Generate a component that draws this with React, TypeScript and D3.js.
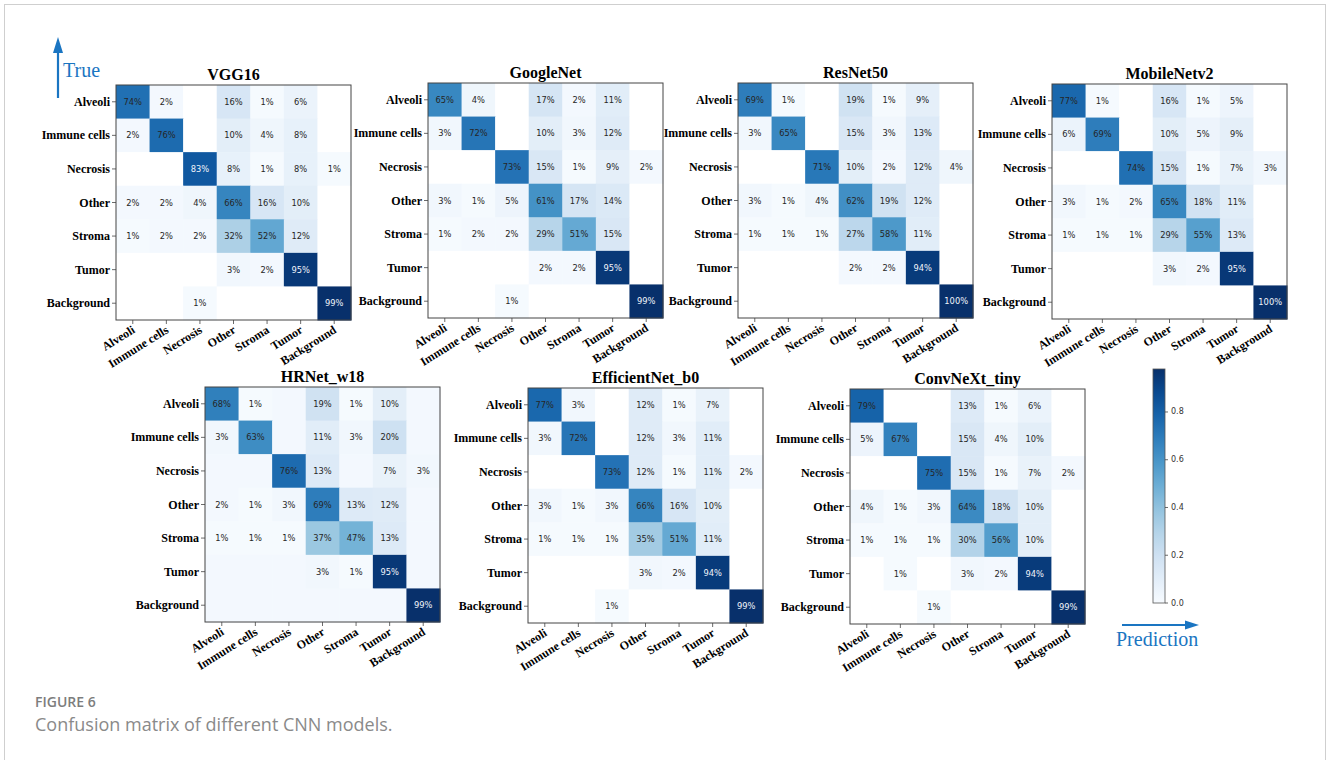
import React from "react";
import * as d3 from "d3";

const classes = ["Alveoli", "Immune cells", "Necrosis", "Other", "Stroma", "Tumor", "Background"];

const vgg16 = [
  [74, 2, 0, 16, 1, 6, 0],
  [2, 76, 0, 10, 4, 8, 0],
  [0, 0, 83, 8, 1, 8, 1],
  [2, 2, 4, 66, 16, 10, 0],
  [1, 2, 2, 32, 52, 12, 0],
  [0, 0, 0, 3, 2, 95, 0],
  [0, 0, 1, 0, 0, 0, 99],
];
const googlenet = [
  [65, 4, 0, 17, 2, 11, 0],
  [3, 72, 0, 10, 3, 12, 0],
  [0, 0, 73, 15, 1, 9, 2],
  [3, 1, 5, 61, 17, 14, 0],
  [1, 2, 2, 29, 51, 15, 0],
  [0, 0, 0, 2, 2, 95, 0],
  [0, 0, 1, 0, 0, 0, 99],
];
const resnet50 = [
  [69, 1, 0, 19, 1, 9, 0],
  [3, 65, 0, 15, 3, 13, 0],
  [0, 0, 71, 10, 2, 12, 4],
  [3, 1, 4, 62, 19, 12, 0],
  [1, 1, 1, 27, 58, 11, 0],
  [0, 0, 0, 2, 2, 94, 0],
  [0, 0, 0, 0, 0, 0, 100],
];
const mobilenetv2 = [
  [77, 1, 0, 16, 1, 5, 0],
  [6, 69, 0, 10, 5, 9, 0],
  [0, 0, 74, 15, 1, 7, 3],
  [3, 1, 2, 65, 18, 11, 0],
  [1, 1, 1, 29, 55, 13, 0],
  [0, 0, 0, 3, 2, 95, 0],
  [0, 0, 0, 0, 0, 0, 100],
];
const hrnet = [
  [68, 1, 0, 19, 1, 10, 0],
  [3, 63, 0, 11, 3, 20, 0],
  [0, 0, 76, 13, 0, 7, 3],
  [2, 1, 3, 69, 13, 12, 0],
  [1, 1, 1, 37, 47, 13, 0],
  [0, 0, 0, 3, 1, 95, 0],
  [0, 0, 0, 0, 0, 0, 99],
];
const efficientnet = [
  [77, 3, 0, 12, 1, 7, 0],
  [3, 72, 0, 12, 3, 11, 0],
  [0, 0, 73, 12, 1, 11, 2],
  [3, 1, 3, 66, 16, 10, 0],
  [1, 1, 1, 35, 51, 11, 0],
  [0, 0, 0, 3, 2, 94, 0],
  [0, 0, 1, 0, 0, 0, 99],
];
const convnext = [
  [79, 0, 0, 13, 1, 6, 0],
  [5, 67, 0, 15, 4, 10, 0],
  [0, 0, 75, 15, 1, 7, 2],
  [4, 1, 3, 64, 18, 10, 0],
  [1, 1, 1, 30, 56, 10, 0],
  [0, 1, 0, 3, 2, 94, 0],
  [0, 0, 1, 0, 0, 0, 99],
];

const modelNames = ["VGG16", "GoogleNet", "ResNet50", "MobileNetv2", "HRNet_w18", "EfficientNet_b0", "ConvNeXt_tiny"];
const modelValues = [vgg16, googlenet, resnet50, mobilenetv2, hrnet, efficientnet, convnext];
const colorbarTicks = [0, 0.2, 0.4, 0.6, 0.8];
const colorMax = 0.98;

// layout (positions of each panel box)
const panelLayout = [
  { x: 116, y: 85, zero: 0 },
  { x: 428, y: 83, zero: 0 },
  { x: 738, y: 83, zero: 0 },
  { x: 1052, y: 84, zero: 0 },
  { x: 205, y: 387, zero: 0.02 },
  { x: 528, y: 388, zero: 0 },
  { x: 850, y: 389, zero: 0 },
];
const SIZE = 235;
const ROT = 32;
const BLUE = "#1a75c2";
const serif = "'Liberation Serif', 'Times New Roman', serif";
const sans = "'DejaVu Sans', sans-serif";

const color = d3.scaleSequential(d3.interpolateBlues).domain([0, colorMax]).clamp(true);

function Panel({ name, values, layout }: { name: string; values: number[][]; layout: any }) {
  const x = d3.scaleBand<string>().domain(classes).range([layout.x, layout.x + SIZE]);
  const y = d3.scaleBand<string>().domain(classes).range([layout.y, layout.y + SIZE]);
  const bw = x.bandwidth();
  const bottom = layout.y + SIZE;
  return (
    <g>
      <text x={layout.x + SIZE / 2} y={layout.y - 5} textAnchor="middle" fontFamily={serif} fontWeight="bold" fontSize={16} fill="#000">
        {name}
      </text>
      {values.map((row, i) =>
        row.map((v, j) => {
          const t = v / 100;
          const fill = v === 0 ? (layout.zero ? color(layout.zero) : "#ffffff") : color(t);
          return (
            <rect key={`c${i}-${j}`} x={x(classes[j])!} y={y(classes[i])!} width={bw + 0.5} height={bw + 0.5} fill={fill as string} />
          );
        })
      )}
      {values.map((row, i) =>
        row.map((v, j) =>
          v === 0 ? null : (
            <text
              key={`t${i}-${j}`}
              x={x(classes[j])! + bw / 2}
              y={y(classes[i])! + bw / 2}
              textAnchor="middle"
              dominantBaseline="central"
              fontFamily={sans}
              fontSize={8.3}
              fill={v / 100 > 0.8 ? "#f0f4fa" : "#262626"}
            >
              {v}%
            </text>
          )
        )
      )}
      <rect x={layout.x} y={layout.y} width={SIZE} height={SIZE} fill="none" stroke="#444" strokeWidth={1} />
      {classes.map((c) => {
        const cy = y(c)! + bw / 2;
        return (
          <g key={`y${c}`}>
            <line x1={layout.x - 4} x2={layout.x} y1={cy} y2={cy} stroke="#444" strokeWidth={0.8} />
            <text x={layout.x - 6} y={cy} textAnchor="end" dominantBaseline="central" fontFamily={serif} fontWeight="bold" fontSize={12} fill="#000">
              {c}
            </text>
          </g>
        );
      })}
      {classes.map((c) => {
        const cx = x(c)! + bw / 2;
        return (
          <g key={`x${c}`}>
            <line x1={cx} x2={cx} y1={bottom} y2={bottom + 4} stroke="#444" strokeWidth={0.8} />
            <text
              transform={`translate(${cx + 3},${bottom + 12}) rotate(${-ROT})`}
              textAnchor="end"
              fontFamily={serif}
              fontWeight="bold"
              fontSize={12}
              fill="#000"
            >
              {c}
            </text>
          </g>
        );
      })}
    </g>
  );
}

function Colorbar() {
  const x0 = 1153;
  const w = 12;
  const yS = d3.scaleLinear().domain([0, colorMax]).range([603, 369]);
  const stops = d3.range(0, 11).map((k) => k / 10);
  return (
    <g>
      <defs>
        <linearGradient id="cbgrad" x1="0" y1="1" x2="0" y2="0">
          {stops.map((s) => (
            <stop key={s} offset={s} stopColor={color(s * colorMax) as string} />
          ))}
        </linearGradient>
      </defs>
      <rect x={x0} y={yS(colorMax)} width={w} height={yS(0) - yS(colorMax)} fill="url(#cbgrad)" stroke="#555" strokeWidth={0.8} />
      {colorbarTicks.map((t) => (
        <g key={t}>
          <line x1={x0 + w} x2={x0 + w + 3} y1={yS(t)} y2={yS(t)} stroke="#444" strokeWidth={0.8} />
          <text x={x0 + w + 6} y={yS(t)} dominantBaseline="central" fontFamily={sans} fontSize={8} fill="#333">
            {t.toFixed(1)}
          </text>
        </g>
      ))}
    </g>
  );
}

export default function App() {
  return (
    <svg width={1328} height={760} style={{ position: "absolute", left: 0, top: 0, background: "#fff" }}>
      <rect x={4.5} y={4.5} width={1321} height={800} fill="#fff" stroke="#cfcfcf" strokeWidth={1} />
      {modelNames.map((n, i) => (
        <Panel key={n} name={n} values={modelValues[i]} layout={panelLayout[i]} />
      ))}
      <Colorbar />
      {/* True arrow */}
      <line x1={58} y1={98} x2={58} y2={52} stroke={BLUE} strokeWidth={2.2} />
      <path d={`M53,53 L58,37 L63,53 Z`} fill={BLUE} />
      <text x={63} y={77} fontFamily={serif} fontSize={20} fill={BLUE}>True</text>
      {/* Prediction arrow */}
      <line x1={1122} y1={625} x2={1186} y2={625} stroke={BLUE} strokeWidth={2.2} />
      <path d={`M1185,620.5 L1199,625 L1185,629.5 Z`} fill={BLUE} />
      <text x={1116} y={646} fontFamily={serif} fontSize={20} fill={BLUE}>Prediction</text>
      {/* caption */}
      <text x={35} y={707} fontFamily="'Open Sans', sans-serif" fontWeight={600} fontSize={14} fill="#7d7d7d">FIGURE 6</text>
      <text x={35} y={731} fontFamily="'Open Sans', sans-serif" fontSize={18} fill="#8a8a8a">Confusion matrix of different CNN models.</text>
    </svg>
  );
}
